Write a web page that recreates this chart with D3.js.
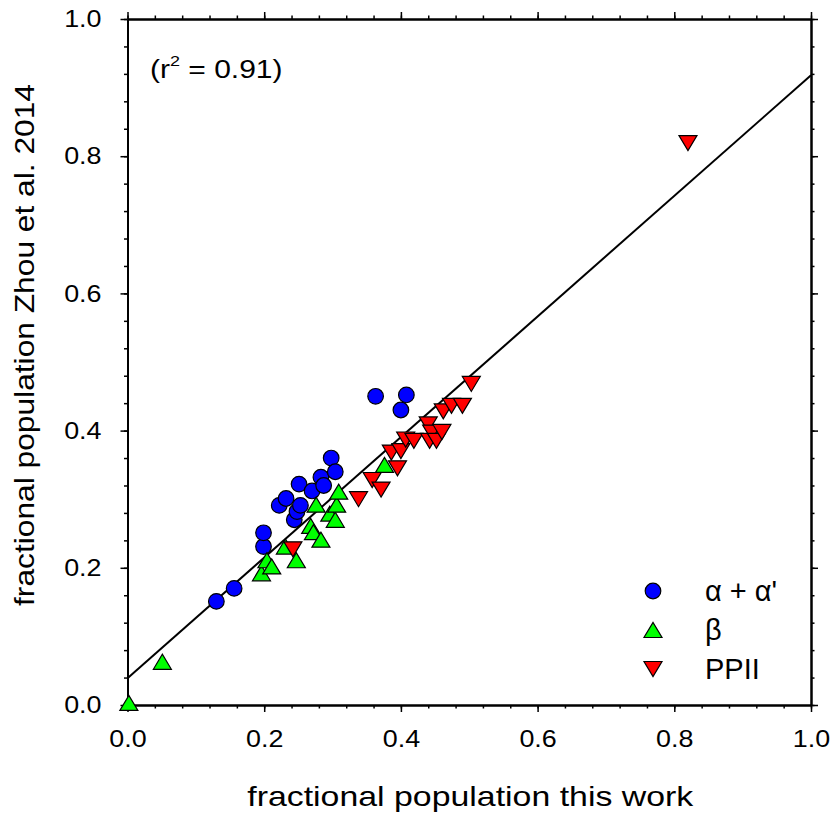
<!DOCTYPE html>
<html>
<head>
<meta charset="utf-8">
<script src="https://cdnjs.cloudflare.com/ajax/libs/d3/7.8.5/d3.min.js"></script>
<style>
  body { margin: 0; background: #fff; }
  svg text { font-family: 'Liberation Sans', Arial, sans-serif; fill: #000; }
</style>
</head>
<body>
<svg id="chart" width="839" height="822"></svg>
<script>
// alpha + alpha' (blue circles)
var alphaX = [0.130, 0.156, 0.199, 0.199, 0.222, 0.232, 0.244, 0.248, 0.251, 0.253, 0.270, 0.283, 0.287, 0.298, 0.304, 0.363, 0.400, 0.408];
var alphaY = [0.151, 0.170, 0.231, 0.251, 0.291, 0.301, 0.270, 0.282, 0.322, 0.291, 0.312, 0.332, 0.320, 0.360, 0.340, 0.450, 0.430, 0.452];

// beta (green up triangles)
var betaX = [0.002, 0.051, 0.196, 0.204, 0.211, 0.231, 0.247, 0.268, 0.272, 0.276, 0.283, 0.296, 0.304, 0.306, 0.309, 0.376];
var betaY = [0.003, 0.063, 0.192, 0.211, 0.202, 0.231, 0.211, 0.261, 0.252, 0.292, 0.241, 0.279, 0.270, 0.292, 0.311, 0.350];

// PPII (red down triangles)
var ppiiX = [0.242, 0.338, 0.358, 0.371, 0.386, 0.395, 0.400, 0.407, 0.419, 0.440, 0.442, 0.445, 0.452, 0.460, 0.462, 0.474, 0.490, 0.503, 0.820];
var ppiiY = [0.227, 0.300, 0.328, 0.314, 0.368, 0.345, 0.370, 0.387, 0.385, 0.409, 0.385, 0.397, 0.385, 0.398, 0.428, 0.436, 0.436, 0.468, 0.819];

// linear fit
var fitIntercept = 0.039;
var fitSlope = 0.879;
var fitX = [0, 1];

var majorTicks = [0, 0.2, 0.4, 0.6, 0.8, 1.0];
var minorTicks = d3.range(0, 1.0001, 0.04);

var legendLabels = ['\u03B1 + \u03B1\'', '\u03B2', 'PPII'];

var svg = d3.select('#chart');
var font = "'Liberation Sans', Arial, sans-serif";

var x = d3.scaleLinear().domain([0, 1]).range([127.5, 811]);
var y = d3.scaleLinear().domain([0, 1]).range([705, 19]);

// widen text along its baseline, the source font runs wide
function stretch(sel, k) {
  sel.each(function() {
    var w = this.getComputedTextLength();
    d3.select(this)
      .attr('textLength', w * k)
      .attr('lengthAdjust', 'spacingAndGlyphs');
  });
}

function styleAxis(g) {
  g.select('.domain').attr('stroke', '#000').attr('stroke-width', 2);
  g.selectAll('.tick line').attr('stroke', '#000').attr('stroke-width', 1.5);
}

var fmt = d3.format('.1f');

// minor ticks on all four sides
[
  [d3.axisBottom(x), 'translate(0,' + y(0) + ')'],
  [d3.axisTop(x), 'translate(0,' + y(1) + ')'],
  [d3.axisLeft(y), 'translate(' + x(0) + ',0)'],
  [d3.axisRight(y), 'translate(' + x(1) + ',0)']
].forEach(function(a) {
  svg.append('g')
    .attr('transform', a[1])
    .call(a[0].tickValues(minorTicks).tickSize(3.5).tickSizeOuter(0).tickFormat(''))
    .call(styleAxis);
});

var bottom = svg.append('g')
  .attr('transform', 'translate(0,' + y(0) + ')')
  .call(d3.axisBottom(x).tickValues(majorTicks).tickSize(7).tickSizeOuter(0).tickFormat(fmt))
  .call(styleAxis);

bottom.selectAll('text')
  .attr('y', 25)
  .attr('font-family', font)
  .attr('font-size', 24)
  .call(stretch, 1.12);

var left = svg.append('g')
  .attr('transform', 'translate(' + x(0) + ',0)')
  .call(d3.axisLeft(y).tickValues(majorTicks).tickSize(7).tickSizeOuter(0).tickFormat(fmt))
  .call(styleAxis);

left.selectAll('text')
  .attr('x', -26)
  .attr('font-family', font)
  .attr('font-size', 24)
  .call(stretch, 1.12);

svg.append('g')
  .attr('transform', 'translate(0,' + y(1) + ')')
  .call(d3.axisTop(x).tickValues(majorTicks).tickSize(7).tickSizeOuter(0).tickFormat(''))
  .call(styleAxis);

svg.append('g')
  .attr('transform', 'translate(' + x(1) + ',0)')
  .call(d3.axisRight(y).tickValues(majorTicks).tickSize(7).tickSizeOuter(0).tickFormat(''))
  .call(styleAxis);

// axis titles
svg.append('text')
  .attr('x', (x(0) + x(1)) / 2 + 1)
  .attr('y', 806)
  .attr('text-anchor', 'middle')
  .attr('font-size', 28)
  .attr('textLength', 446)
  .attr('lengthAdjust', 'spacingAndGlyphs')
  .text('fractional population this work');

svg.append('text')
  .attr('transform', 'translate(34,' + (y(0.5) - 17) + ') rotate(-90)')
  .attr('text-anchor', 'middle')
  .attr('font-size', 28)
  .attr('textLength', 522)
  .attr('lengthAdjust', 'spacingAndGlyphs')
  .text('fractional population Zhou et al. 2014');

// r squared note
var note = svg.append('text')
  .attr('transform', 'translate(150,78) scale(1.2,1)')
  .attr('font-size', 25);
note.append('tspan').text('(r');
note.append('tspan').attr('font-size', 15).attr('dy', -12).text('2');
note.append('tspan').attr('dy', 12).text(' = 0.91)');

// fit line
var fitLine = d3.line()
  .x(function(d) { return x(d); })
  .y(function(d) { return y(fitIntercept + fitSlope * d); });

svg.append('path')
  .datum(fitX)
  .attr('d', fitLine)
  .attr('fill', 'none')
  .attr('stroke', '#000')
  .attr('stroke-width', 2);

// marker shapes
var upTri = 'M-9,7.5L9,7.5L0,-7.5Z';
var downTri = 'M-9,-7.5L9,-7.5L0,7.5Z';

function zip(xs, ys) {
  return xs.map(function(v, i) { return [v, ys[i]]; });
}

svg.append('g').selectAll('circle')
  .data(zip(alphaX, alphaY))
  .join('circle')
  .attr('cx', function(d) { return x(d[0]); })
  .attr('cy', function(d) { return y(d[1]); })
  .attr('r', 7.8)
  .attr('fill', '#0000ff')
  .attr('stroke', '#000')
  .attr('stroke-width', 1.2);

svg.append('g').selectAll('path')
  .data(zip(betaX, betaY))
  .join('path')
  .attr('d', upTri)
  .attr('transform', function(d) { return 'translate(' + x(d[0]) + ',' + y(d[1]) + ')'; })
  .attr('fill', '#00ff00')
  .attr('stroke', '#000')
  .attr('stroke-width', 1.2);

svg.append('g').selectAll('path')
  .data(zip(ppiiX, ppiiY))
  .join('path')
  .attr('d', downTri)
  .attr('transform', function(d) { return 'translate(' + x(d[0]) + ',' + y(d[1]) + ')'; })
  .attr('fill', '#ff0000')
  .attr('stroke', '#000')
  .attr('stroke-width', 1.2);

// legend
var legend = svg.append('g').attr('transform', 'translate(653,591)');
var rows = legend.selectAll('g')
  .data(legendLabels)
  .join('g')
  .attr('transform', function(d, i) { return 'translate(0,' + (i * 39) + ')'; });

rows.each(function(d, i) {
  var row = d3.select(this);
  if (i === 0) {
    row.append('circle').attr('r', 7.8).attr('fill', '#0000ff');
  } else if (i === 1) {
    row.append('path').attr('d', upTri).attr('fill', '#00ff00');
  } else {
    row.append('path').attr('d', downTri).attr('fill', '#ff0000');
  }
  row.select(':first-child').attr('stroke', '#000').attr('stroke-width', 1.2);
});

rows.append('text')
  .attr('x', 52)
  .attr('y', 10)
  .attr('font-size', 29)
  .text(function(d) { return d; });
</script>
</body>
</html>
